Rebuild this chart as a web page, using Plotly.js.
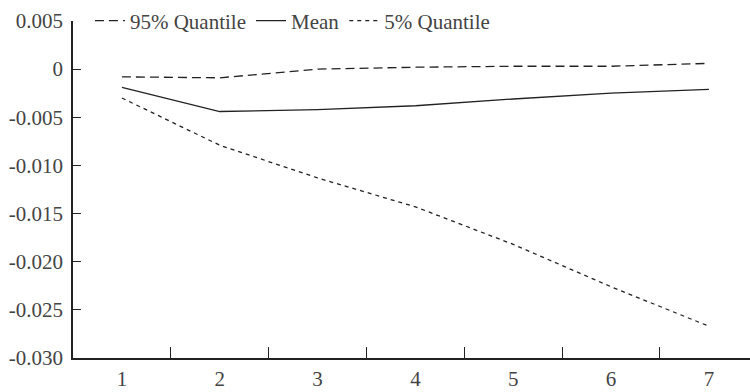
<!DOCTYPE html>
<html>
<head>
<meta charset="utf-8">
<script src="https://cdn.plot.ly/plotly-3.0.1.min.js"></script>
<style>
html,body{margin:0;padding:0;background:#fff;overflow:hidden;}
#chart{width:750px;height:392px;}
.modebar-container,.modebar{display:none !important;}
svg text{font-family:'Liberation Serif', 'Times New Roman', serif !important;}
#fontwarm{position:absolute;left:-2000px;top:0;font-family:'Liberation Serif';font-size:20px;}
</style>
</head>
<body>
<div id="fontwarm">.</div>
<div id="chart"></div>
<script>
var periods = ['1','2','3','4','5','6','7'];
var q95 = [-0.0008, -0.0009, 0.0000, 0.0002, 0.0003, 0.0003, 0.0006];
var meanVals = [-0.0019, -0.0044, -0.0042, -0.0038, -0.0031, -0.0025, -0.0021];
var q05 = [-0.0030, -0.0079, -0.0113, -0.0143, -0.0182, -0.0226, -0.0267];
var yTickVals = [0.005, 0, -0.005, -0.010, -0.015, -0.020, -0.025, -0.030];
var yTickText = ['0.005', '0', '-0.005', '-0.010', '-0.015', '-0.020', '-0.025', '-0.030'];

var traces = [
  {x: periods, y: q95, name: '95% Quantile', type: 'scatter', mode: 'lines',
   line: {color: '#222', width: 1.3, dash: '9px,5px'}},
  {x: periods, y: meanVals, name: 'Mean', type: 'scatter', mode: 'lines',
   line: {color: '#222', width: 1.3}},
  {x: periods, y: q05, name: '5% Quantile', type: 'scatter', mode: 'lines',
   line: {color: '#222', width: 1.3, dash: '4px,4px'}}
];

var layout = {
  width: 750, height: 392,
  margin: {l: 73, r: 0, t: 19, b: 34},
  paper_bgcolor: '#fff', plot_bgcolor: '#fff',
  font: {family: 'Liberation Serif', size: 21},
  showlegend: true,
  legend: {orientation: 'h', x: 0.025, y: 1, xanchor: 'left', yanchor: 'middle',
           bgcolor: 'rgba(0,0,0,0)', borderwidth: 0},
  xaxis: {type: 'category', range: [-0.5, 6.42], tickson: 'boundaries',
          ticks: 'inside', ticklen: 11, tickwidth: 1.3, tickcolor: '#222',
          showline: true, linecolor: '#222', linewidth: 1.5, showgrid: false,
          zeroline: false, ticklabelstandoff: 1},
  yaxis: {range: [-0.030, 0.005], tickvals: yTickVals, ticktext: yTickText,
          ticks: 'inside', ticklen: 8, tickwidth: 1.3, tickcolor: '#222',
          showline: true, linecolor: '#222', linewidth: 1.5, showgrid: false,
          zeroline: false, ticklabelstandoff: 4}
};

Plotly.newPlot('chart', traces, layout).then(function (gd) {
  setTimeout(function () {
    Plotly.relayout(gd, {'font.family': 'Liberation Serif'});
  }, 150);
});
</script>
</body>
</html>
